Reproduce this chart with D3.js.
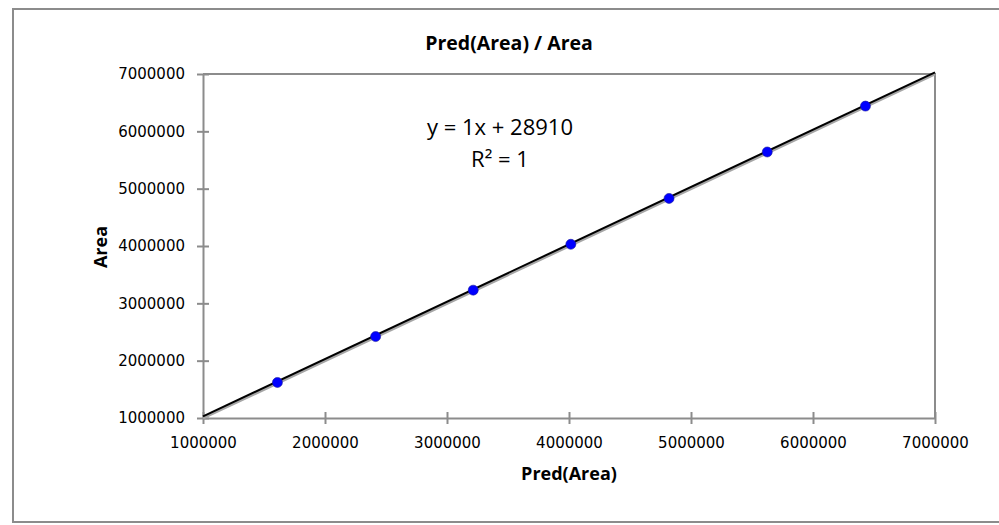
<!DOCTYPE html>
<html>
<head>
<meta charset="utf-8">
<script src="https://cdn.jsdelivr.net/npm/d3@7"></script>
<style>
  body { margin: 0; background: #fff; }
  svg text { fill: #000; }
</style>
</head>
<body>
<div class="chart"></div>
<script>
// values
const predArea = [1610000, 2415000, 3215000, 4015000, 4820000, 5625000, 6430000];
const area = [1620000, 2420000, 3230000, 4030000, 4830000, 5640000, 6440000];
const ticks = [1000000, 2000000, 3000000, 4000000, 5000000, 6000000, 7000000];
const slope = 1;
const intercept = 28910;
const equation = ["y = 1x + 28910", "R² = 1"];

const W = 999, H = 525;
const margin = { top: 74, right: 64, bottom: 107, left: 203 };
const width = W - margin.left - margin.right;
const height = H - margin.top - margin.bottom;

const svg = d3.select(".chart")
    .append("svg")
    .attr("width", W)
    .attr("height", H);

// outer frame
svg.append("rect")
    .attr("x", 13).attr("y", 9)
    .attr("width", 1000).attr("height", 513)
    .attr("fill", "none")
    .attr("stroke", "#8c8c8c")
    .attr("stroke-width", 2);

const xScale = d3.scaleLinear().domain([1000000, 7000000]).range([0, width]);
const yScale = d3.scaleLinear().domain([1000000, 7000000]).range([height, 0]);

const g = svg.append("g")
    .attr("transform", `translate(${margin.left}, ${margin.top})`);

// plot frame (top and right)
g.append("path")
    .attr("d", `M0,0H${width}V${height}`)
    .attr("fill", "none")
    .attr("stroke", "#8c8c8c")
    .attr("stroke-width", 2);

const xAxis = d3.axisBottom(xScale).tickValues(ticks).tickFormat(d3.format("d"))
    .tickSizeInner(6).tickSizeOuter(0);
const yAxis = d3.axisLeft(yScale).tickValues(ticks).tickFormat(d3.format("d"))
    .tickSizeInner(6).tickSizeOuter(0).tickPadding(12);

const gx = g.append("g")
    .attr("class", "x-axis")
    .attr("transform", `translate(0, ${height})`)
    .call(xAxis);
const gy = g.append("g")
    .attr("class", "y-axis")
    .call(yAxis);

[gx, gy].forEach(a => {
    a.select(".domain").attr("stroke", "#8c8c8c").attr("stroke-width", 2);
    a.selectAll(".tick line").attr("stroke", "#8c8c8c").attr("stroke-width", 2);
    a.selectAll(".tick text")
        .style("font-family", "DejaVu Sans")
        .style("font-size", "15px")
        .attr("fill", "#000");
});
// ticks cross the axis line
gx.selectAll(".tick line").attr("y1", -6).attr("y2", 6);
gy.selectAll(".tick line").attr("x1", -6).attr("x2", 6);
gx.selectAll(".tick text").attr("dy", null).attr("y", 30);

// gray series line (y = x) underneath
g.append("line")
    .attr("x1", xScale(1000000)).attr("y1", yScale(1000000))
    .attr("x2", xScale(7000000)).attr("y2", yScale(7000000))
    .attr("stroke", "#a6a6a6")
    .attr("stroke-width", 3);

// trendline
g.append("line")
    .attr("x1", xScale(1000000)).attr("y1", yScale(1000000 * slope + intercept))
    .attr("x2", xScale(7000000)).attr("y2", yScale(7000000 * slope + intercept))
    .attr("stroke", "#000")
    .attr("stroke-width", 2);

const pts = predArea.map((p, i) => ({ x: p, y: area[i] }));
g.selectAll("circle")
    .data(pts)
    .enter()
    .append("circle")
    .attr("cx", d => xScale(d.x))
    .attr("cy", d => yScale(d.y))
    .attr("r", 5)
    .attr("fill", "#0000ff")
    .attr("stroke", "#1a1a9a")
    .attr("stroke-width", 0.6);

// title
svg.append("text")
    .attr("x", 509).attr("y", 50)
    .attr("text-anchor", "middle")
    .style("font-family", "Open Sans")
    .style("font-weight", "bold")
    .style("font-size", "19.5px")
    .text("Pred(Area) / Area");

// equation
svg.selectAll(".eq")
    .data(equation)
    .enter()
    .append("text")
    .attr("class", "eq")
    .attr("x", 500)
    .attr("y", (d, i) => 135 + i * 32)
    .attr("text-anchor", "middle")
    .style("font-family", "Open Sans")
    .style("font-size", "22px")
    .text(d => d);

// axis titles
svg.append("text")
    .attr("x", 569).attr("y", 480)
    .attr("text-anchor", "middle")
    .style("font-family", "Open Sans")
    .style("font-weight", "bold")
    .style("font-size", "18px")
    .text("Pred(Area)");

svg.append("text")
    .attr("transform", "translate(107, 247) rotate(-90)")
    .attr("text-anchor", "middle")
    .style("font-family", "Open Sans")
    .style("font-weight", "bold")
    .style("font-size", "18px")
    .text("Area");
</script>
</body>
</html>
